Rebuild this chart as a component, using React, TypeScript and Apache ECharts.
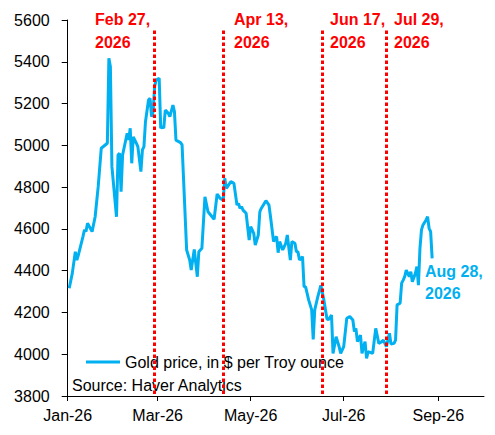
import React, { useEffect, useRef } from "react";
import * as echarts from "echarts";

const SERIES_NAME = "Gold price, in $ per Troy ounce";
const FONT = "'Liberation Sans', Arial, sans-serif";

const priceDates = [
  "2026-01-02", "2026-01-04", "2026-01-06", "2026-01-07", "2026-01-08", "2026-01-11", "2026-01-12", "2026-01-13",
  "2026-01-14", "2026-01-17", "2026-01-19", "2026-01-21", "2026-01-23", "2026-01-27", "2026-01-28", "2026-01-29",
  "2026-01-30", "2026-02-02", "2026-02-03", "2026-02-04", "2026-02-05", "2026-02-06", "2026-02-09", "2026-02-10",
  "2026-02-11", "2026-02-12", "2026-02-13", "2026-02-15", "2026-02-16", "2026-02-18", "2026-02-19", "2026-02-20",
  "2026-02-21", "2026-02-23", "2026-02-24", "2026-02-25", "2026-02-26", "2026-02-27", "2026-02-28", "2026-03-02",
  "2026-03-03", "2026-03-04", "2026-03-05", "2026-03-06", "2026-03-08", "2026-03-09", "2026-03-11", "2026-03-12",
  "2026-03-13", "2026-03-16", "2026-03-17", "2026-03-20", "2026-03-22", "2026-03-23", "2026-03-25", "2026-03-27",
  "2026-03-28", "2026-03-30", "2026-04-01", "2026-04-03", "2026-04-07", "2026-04-08", "2026-04-09", "2026-04-11",
  "2026-04-13", "2026-04-14", "2026-04-15", "2026-04-18", "2026-04-20", "2026-04-22", "2026-04-23", "2026-04-24",
  "2026-04-25", "2026-04-26", "2026-04-28", "2026-04-30", "2026-05-01", "2026-05-02", "2026-05-03", "2026-05-04",
  "2026-05-06", "2026-05-07", "2026-05-08", "2026-05-11", "2026-05-13", "2026-05-14", "2026-05-16", "2026-05-17",
  "2026-05-18", "2026-05-19", "2026-05-20", "2026-05-22", "2026-05-24", "2026-05-25", "2026-05-27", "2026-05-28",
  "2026-05-30", "2026-05-31", "2026-06-01", "2026-06-02", "2026-06-04", "2026-06-05", "2026-06-06", "2026-06-08",
  "2026-06-10", "2026-06-11", "2026-06-12", "2026-06-14", "2026-06-16", "2026-06-18", "2026-06-20", "2026-06-21",
  "2026-06-23", "2026-06-24", "2026-06-26", "2026-06-28", "2026-06-29", "2026-07-01", "2026-07-03", "2026-07-05",
  "2026-07-07", "2026-07-08", "2026-07-09", "2026-07-10", "2026-07-12", "2026-07-13", "2026-07-14", "2026-07-15",
  "2026-07-16", "2026-07-17", "2026-07-20", "2026-07-22", "2026-07-24", "2026-07-26", "2026-07-27", "2026-07-29",
  "2026-07-31", "2026-08-01", "2026-08-03", "2026-08-04", "2026-08-05", "2026-08-07", "2026-08-08", "2026-08-09",
  "2026-08-10", "2026-08-11", "2026-08-13", "2026-08-14", "2026-08-15", "2026-08-17", "2026-08-18", "2026-08-19",
  "2026-08-20", "2026-08-21", "2026-08-22", "2026-08-24", "2026-08-25", "2026-08-26", "2026-08-27", "2026-08-28",
];

const priceValues = [
  4316, 4387, 4491, 4451, 4475, 4563, 4595, 4587,
  4627, 4587, 4658, 4802, 4986, 5010, 5417, 5376,
  4898, 4658, 4954, 4962, 4778, 4954, 5058, 5026,
  5082, 4914, 5041, 5010, 4994, 4874, 4978, 4994,
  5113, 5217, 5225, 5137, 5161, 5281, 5313, 5321,
  5082, 5089, 5082, 5169, 5153, 5137, 5193, 5161,
  5025, 5013, 5002, 4499, 4451, 4403, 4502, 4371,
  4491, 4507, 4754, 4682, 4646, 4706, 4767, 4746,
  4738, 4842, 4794, 4826, 4818, 4714, 4722, 4699,
  4706, 4690, 4675, 4547, 4611, 4595, 4579, 4523,
  4571, 4682, 4699, 4735, 4714, 4658, 4539, 4555,
  4563, 4486, 4539, 4499, 4531, 4571, 4451, 4539,
  4531, 4491, 4491, 4451, 4467, 4323, 4323, 4260,
  4212, 4071, 4212, 4275, 4330, 4260, 4170, 4165,
  4188, 4004, 4084, 4036, 4004, 4036, 4172, 4180,
  4164, 4108, 4124, 4060, 4092, 4004, 4036, 4060,
  3980, 4012, 4004, 4124, 4052, 4060, 4068, 4036,
  4100, 4049, 4052, 4068, 4236, 4244, 4340, 4355,
  4371, 4403, 4371, 4395, 4347, 4387, 4419, 4331,
  4507, 4595, 4619, 4643, 4658, 4603, 4587, 4459,
];

const eventDates = ["2026-02-27", "2026-04-13", "2026-06-17", "2026-07-29"];
const eventLabels = ["Feb 27,\n2026", "Apr 13,\n2026", "Jun 17,\n2026", "Jul 29,\n2026"];
const lastLabel = "Aug 28,\n2026";
const sourceText = "Source: Haver Analytics";
const monthNames = ["Jan", "Feb", "Mar", "Apr", "May", "Jun", "Jul", "Aug", "Sep", "Oct", "Nov", "Dec"];

const AXIS_START = "2026-01-01";
const AXIS_END = "2026-10-01";

function buildCategories(): string[] {
  const out: string[] = [];
  const d = new Date(AXIS_START + "T00:00:00Z");
  const end = new Date(AXIS_END + "T00:00:00Z");
  while (d.getTime() <= end.getTime()) {
    out.push(d.toISOString().slice(0, 10));
    d.setUTCDate(d.getUTCDate() + 1);
  }
  return out;
}

function isTickDate(s: string): boolean {
  const m = parseInt(s.slice(5, 7), 10);
  const day = s.slice(8, 10);
  return day === "01" && m % 2 === 1 && m <= 9;
}

export default function App() {
  const ref = useRef<HTMLDivElement>(null);

  useEffect(() => {
    if (!ref.current) return;
    const chart = echarts.init(ref.current, undefined, { renderer: "svg" });
    const categories = buildCategories();
    const lookup: Record<string, number> = {};
    priceDates.forEach((d, i) => (lookup[d] = priceValues[i]));
    const seriesData = categories.map((c) => (c in lookup ? lookup[c] : null));

    const labelX = [95, 234, 330, 394];

    chart.setOption({
      animation: false,
      grid: { left: 67.7, right: 11, top: 20, bottom: 39, containLabel: false },
      legend: {
        show: true,
        data: [SERIES_NAME],
        left: 81,
        top: 349,
        icon: "rect",
        itemWidth: 34,
        itemHeight: 3,
        textStyle: { fontSize: 16, color: "#000", fontFamily: FONT },
      },
      xAxis: {
        type: "category",
        data: categories,
        boundaryGap: false,
        axisLine: { show: true, lineStyle: { color: "#000", width: 1 } },
        axisTick: {
          show: true,
          length: 5,
          interval: (_i: number, v: string) => isTickDate(v),
          lineStyle: { color: "#000" },
        },
        axisLabel: {
          show: true,
          interval: (_i: number, v: string) => isTickDate(v),
          formatter: (v: string) => monthNames[parseInt(v.slice(5, 7), 10) - 1] + "-" + v.slice(2, 4),
          fontSize: 16,
          color: "#000",
          fontFamily: FONT,
          margin: 11,
        },
        splitLine: { show: false },
      },
      yAxis: {
        type: "value",
        min: 3800,
        max: 5600,
        interval: 200,
        axisLine: { show: true, lineStyle: { color: "#000", width: 1 } },
        axisTick: { show: true, length: 6, lineStyle: { color: "#000" } },
        axisLabel: {
          fontSize: 16,
          color: "#000",
          fontFamily: FONT,
          margin: 18,
          formatter: (v: number) => String(v),
        },
        splitLine: { show: false },
      },
      series: [
        {
          name: SERIES_NAME,
          type: "line",
          data: seriesData,
          connectNulls: true,
          showSymbol: false,
          symbol: "none",
          lineStyle: { color: "#00B0F0", width: 3 },
          itemStyle: { color: "#00B0F0" },
          markLine: {
            silent: true,
            symbol: ["none", "none"],
            label: { show: false },
            lineStyle: { color: "#FF0000", width: 3, type: [3.5, 2.5] },
            data: eventDates.map((d) => [
              { coord: [d, 5550] },
              { coord: [d, 3800] },
            ]),
          },
        },
      ],
      graphic: [
        ...eventLabels.map((t, i) => ({
          type: "text",
          left: labelX[i],
          top: 8,
          style: {
            text: t,
            fontSize: 16,
            fontWeight: "bold",
            fill: "#FF0000",
            fontFamily: FONT,
            lineHeight: 23,
          },
        })),
        {
          type: "text",
          left: 425,
          top: 260,
          style: {
            text: lastLabel,
            fontSize: 16,
            fontWeight: "bold",
            fill: "#00B0F0",
            fontFamily: FONT,
            lineHeight: 22,
          },
        },
        {
          type: "text",
          left: 72,
          top: 377,
          style: { text: sourceText, fontSize: 16, fill: "#000", fontFamily: FONT },
        },
      ],
    });
    return () => chart.dispose();
  }, []);

  return (
    <div
      ref={ref}
      style={{ position: "absolute", left: 0, top: 0, width: 495, height: 435, background: "#fff" }}
    />
  );
}
